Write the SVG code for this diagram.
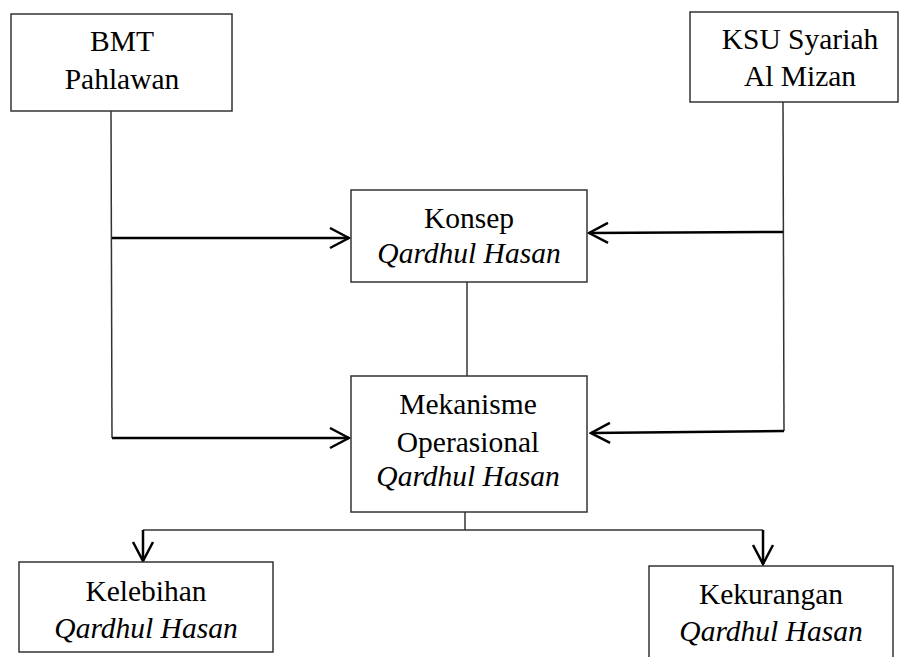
<svg xmlns="http://www.w3.org/2000/svg" width="901" height="657" viewBox="0 0 901 657">
<style>
.box{fill:#fff;stroke:#333;stroke-width:1.5}
.t{font-family:"Liberation Serif","Times New Roman",serif;font-size:29.5px;fill:#000;text-anchor:middle}
.i{font-style:italic}
.ln{stroke:#333;stroke-width:1.5;fill:none}
.ar{stroke:#000;stroke-width:2.5;fill:none;marker-end:url(#ah)}
</style>
<defs>
<marker id="ah" markerUnits="userSpaceOnUse" viewBox="-22 -12 24 24" markerWidth="24" markerHeight="24" refX="0" refY="0" orient="auto">
<path d="M -19 -10 L 0 0 L -19 10" fill="none" stroke="#000" stroke-width="2.5"/>
</marker>
</defs>
<rect width="901" height="657" fill="#fff"/>
<g id="connectors">
<line class="ln" x1="111" y1="111" x2="112" y2="438"/>
<line class="ar" x1="112" y1="238" x2="349" y2="238"/>
<line class="ar" x1="112" y1="438" x2="349" y2="438"/>
<line class="ln" x1="783" y1="102" x2="784" y2="431"/>
<line class="ar" x1="783" y1="232" x2="589" y2="233"/>
<line class="ar" x1="784" y1="431" x2="591" y2="433"/>
<line class="ln" x1="467" y1="282" x2="467" y2="376"/>
<line class="ln" x1="465" y1="512" x2="465" y2="530"/>
<line class="ln" x1="143" y1="530" x2="763" y2="530"/>
<line class="ar" x1="143" y1="530" x2="143" y2="561"/>
<line class="ar" x1="763" y1="530" x2="763" y2="564"/>
</g>
<g id="bmt">
<rect class="box" x="11" y="14" width="221" height="97"/>
<text class="t" x="122" y="51">BMT</text>
<text class="t" x="122" y="89">Pahlawan</text>
</g>
<g id="ksu">
<rect class="box" x="690" y="12" width="208" height="90"/>
<text class="t" x="800" y="49">KSU Syariah</text>
<text class="t" x="800" y="86">Al Mizan</text>
</g>
<g id="konsep">
<rect class="box" x="351" y="190" width="236" height="92"/>
<text class="t" x="469" y="228">Konsep</text>
<text class="t i" x="469" y="263">Qardhul Hasan</text>
</g>
<g id="mekanisme">
<rect class="box" x="351" y="376" width="236" height="136"/>
<text class="t" x="468" y="414">Mekanisme</text>
<text class="t" x="468" y="452">Operasional</text>
<text class="t i" x="468" y="486">Qardhul Hasan</text>
</g>
<g id="kelebihan">
<rect class="box" x="19" y="562" width="254" height="90"/>
<text class="t" x="146" y="601">Kelebihan</text>
<text class="t i" x="146" y="638">Qardhul Hasan</text>
</g>
<g id="kekurangan">
<rect class="box" x="649" y="566" width="244" height="100"/>
<text class="t" x="771" y="604">Kekurangan</text>
<text class="t i" x="771" y="641">Qardhul Hasan</text>
</g>
</svg>
